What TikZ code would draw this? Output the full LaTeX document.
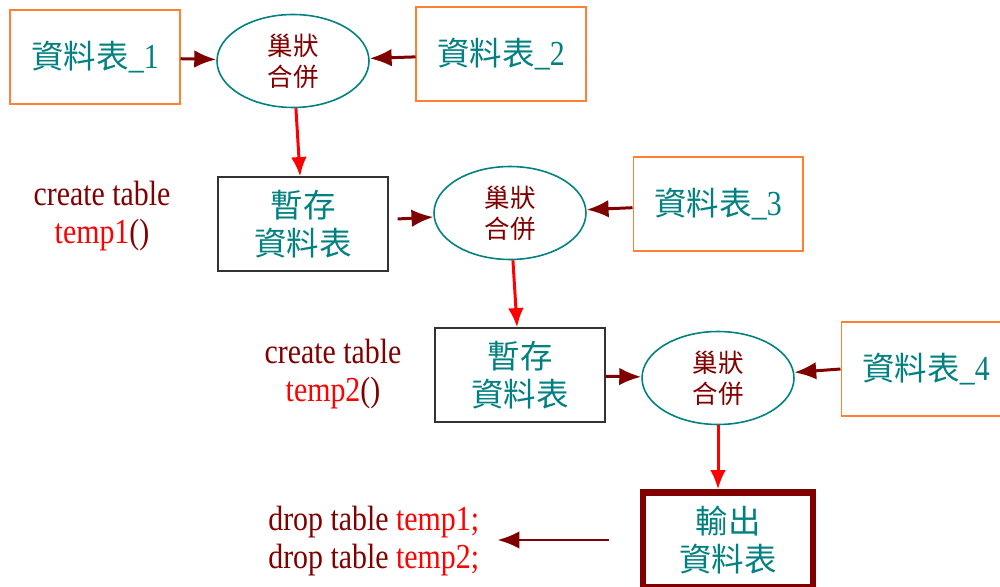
\documentclass[tikz,border=0pt]{standalone}
\usepackage{fontspec}
\usepackage{tikz}
\usetikzlibrary{shapes.geometric,arrows.meta}
\setmainfont[FakeStretch=0.85]{Liberation Serif}
\newfontfamily\cjk{Noto Sans CJK TC}
\definecolor{tealtext}{RGB}{0,128,128}
\definecolor{boxorange}{RGB}{255,128,48}
\definecolor{darkred}{RGB}{128,0,0}
\tikzset{
  tablebox/.style={draw=boxorange,line width=0.6pt,minimum width=3.4cm,minimum height=1.88cm,
    text=tealtext,font=\fontsize{20}{22}\selectfont},
  tempbox/.style={draw=black!80,line width=0.7pt,minimum width=3.4cm,minimum height=1.88cm,
    text=tealtext,align=center,font=\cjk\fontsize{18.5}{21.5}\selectfont},
  merge/.style={ellipse,draw=tealtext,line width=0.9pt,minimum width=3.04cm,minimum height=1.86cm,
    inner sep=0pt,text=darkred,align=center,font=\cjk\fontsize{14.5}{17.6}\selectfont},
  feed/.style={draw=darkred,line width=1.7pt,-{Latex[length=12.5pt,width=10pt]}},
  flow/.style={draw=red,line width=1.7pt,-{Latex[length=11pt,width=9pt]}},
  sqltext/.style={text=darkred,inner sep=0pt,font=\fontsize{20}{21.5}\selectfont}
}
\newcommand{\tabname}[1]{{\cjk\fontsize{18.5}{20}\selectfont 資料表}\_#1}
\begin{document}
\begin{tikzpicture}[x=0.02cm,y=-0.02cm]
\useasboundingbox (0,0) rectangle (1000,587);
\begin{scope}
\clip (0,0) rectangle (1000,587);
\node[tablebox] (t1) at (95,57) {\tabname{1}};
\node[merge] (m1) at (293,61) {巢狀\\合併};
\node[tablebox] (t2) at (501,54) {\tabname{2}};
\node[tempbox] (tmp1) at (303,224) {暫存\\資料表};
\node[merge] (m2) at (510,213) {巢狀\\合併};
\node[tablebox] (t3) at (718,204) {\tabname{3}};
\node[tempbox] (tmp2) at (520,375) {暫存\\資料表};
\node[merge] (m3) at (718,378) {巢狀\\合併};
\node[tablebox] (t4) at (926,369) {\tabname{4}};
\node[tempbox,draw=darkred,line width=3.6pt,minimum width=3.4cm,minimum height=1.9cm] (out) at (728,540) {輸出\\資料表};
% sql notes
\node[sqltext,align=center] (c1) at (102,216) {create table\\\textcolor{red}{temp1}()};
\node[sqltext,align=center] (c2) at (333,374) {create table\\\textcolor{red}{temp2}()};
\node[sqltext,align=left,anchor=west] (drop) at (268,541) {drop table \textcolor{red}{temp1;}\\drop table \textcolor{red}{temp2;}};
\end{scope}
\draw[feed] (t1) -- (m1);
\draw[feed] (t2) -- (m1);
\draw[flow] (m1) -- (tmp1);
\draw[feed,shorten <=0.18cm] (tmp1) -- (m2);
\draw[feed] (t3) -- (m2);
\draw[flow] (m2) -- (tmp2);
\draw[feed] (tmp2) -- (m3);
\draw[feed] (t4.west) -- (m3);
\draw[flow] (m3) -- (m3 |- out.north);
\draw[feed,shorten <=0.62cm,shorten >=0.36cm] (out.west) -- (drop.east |- out.west);
\end{tikzpicture}
\end{document}
